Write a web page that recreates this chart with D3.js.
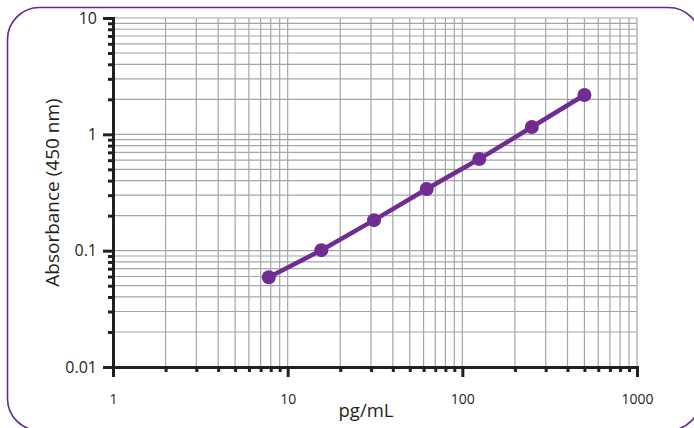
<!DOCTYPE html>
<html>
<head>
<meta charset="utf-8">
<script src="https://cdn.jsdelivr.net/npm/d3@7"></script>
<style>
  html, body { margin: 0; padding: 0; background: #fff; }
  svg { display: block; }
  text { font-family: "Open Sans", "Noto Sans", sans-serif; fill: #231f20; }
</style>
</head>
<body>
<script>
// ---- data ----
const concentrations = [7.8, 15.6, 31.25, 62.5, 125, 250, 500];
const absorbance = [0.059, 0.101, 0.183, 0.339, 0.613, 1.156, 2.18];
const xTickLabels = ["1", "10", "100", "1000"];
const yTickLabels = ["0.01", "0.1", "1", "10"];
const xTitle = "pg/mL";
const yTitle = "Absorbance (450 nm)";

const W = 694, H = 428;
const svg = d3.select("body").append("svg").attr("width", W).attr("height", H);

// rounded frame
svg.append("rect")
  .attr("x", 7.5).attr("y", 7.5).attr("width", 693).attr("height", 423)
  .attr("rx", 32).attr("ry", 32)
  .attr("fill", "none").attr("stroke", "#5b2d91").attr("stroke-width", 1.6);

const x = d3.scaleLog().domain([1, 1000]).range([113, 637]);
const y = d3.scaleLog().domain([0.01, 10]).range([367, 18]);

const xAll = x.ticks();
const yAll = y.ticks();
const xMajor = xTickLabels.map(Number);
const yMajor = yTickLabels.map(Number);
const xMinor = xAll.filter(v => !xMajor.some(m => Math.abs(m - v) < 1e-9));
const yMinor = yAll.filter(v => !yMajor.some(m => Math.abs(m - v) < 1e-9));

// grid
const grid = svg.append("g").attr("stroke", "#a3a5a8").attr("stroke-width", 1.2);
grid.selectAll("line.gx").data(xAll).join("line")
  .attr("x1", d => x(d)).attr("x2", d => x(d))
  .attr("y1", y.range()[0]).attr("y2", y.range()[1]);
grid.selectAll("line.gy").data(yAll).join("line")
  .attr("y1", d => y(d)).attr("y2", d => y(d))
  .attr("x1", x.range()[0]).attr("x2", x.range()[1]);

// axes
const axisColor = "#231f20";
function styleAxis(g) {
  g.selectAll("path, line").attr("stroke", axisColor).attr("stroke-width", 3);
  g.select(".domain").attr("stroke-linecap", "square");
}
// minor ticks
svg.append("g").attr("transform", `translate(0,${y.range()[0]})`)
  .call(d3.axisBottom(x).tickValues(xMinor).tickSize(5).tickSizeOuter(0).tickFormat(""))
  .call(styleAxis);
svg.append("g").attr("transform", `translate(${x.range()[0]},0)`)
  .call(d3.axisLeft(y).tickValues(yMinor).tickSize(5).tickSizeOuter(0).tickFormat(""))
  .call(styleAxis);
// major ticks + labels
const xAxisG = svg.append("g").attr("transform", `translate(0,${y.range()[0]})`)
  .call(d3.axisBottom(x).tickValues(xMajor).tickSize(10).tickSizeOuter(0)
    .tickFormat((d, i) => xTickLabels[i]).tickPadding(17))
  .call(styleAxis);
xAxisG.selectAll("text").style("font-size", "14px").attr("fill", axisColor)
  .style("font-family", "\"Open Sans\", sans-serif");
const yAxisG = svg.append("g").attr("transform", `translate(${x.range()[0]},0)`)
  .call(d3.axisLeft(y).tickValues(yMajor).tickSize(10).tickSizeOuter(0)
    .tickFormat((d, i) => yTickLabels[i]).tickPadding(6))
  .call(styleAxis);
yAxisG.selectAll("text").style("font-size", "16px").attr("fill", axisColor)
  .style("font-family", "\"Open Sans\", sans-serif");

// data line and markers
const purple = "#6f2c91";
const pts = concentrations.map((c, i) => [c, absorbance[i]]);
svg.append("path").datum(pts)
  .attr("fill", "none").attr("stroke", purple).attr("stroke-width", 4.5)
  .attr("d", d3.line().x(d => x(d[0])).y(d => y(d[1])));
svg.append("g").selectAll("circle").data(pts).join("circle")
  .attr("cx", d => x(d[0])).attr("cy", d => y(d[1])).attr("r", 7)
  .attr("fill", purple);

// titles
svg.append("text").attr("x", 366).attr("y", 417).attr("text-anchor", "middle")
  .style("font-size", "18.5px").text(xTitle);
svg.append("text").attr("transform", "translate(59,192.5) rotate(-90)")
  .attr("text-anchor", "middle").style("font-size", "19px").text(yTitle);
</script>
</body>
</html>
